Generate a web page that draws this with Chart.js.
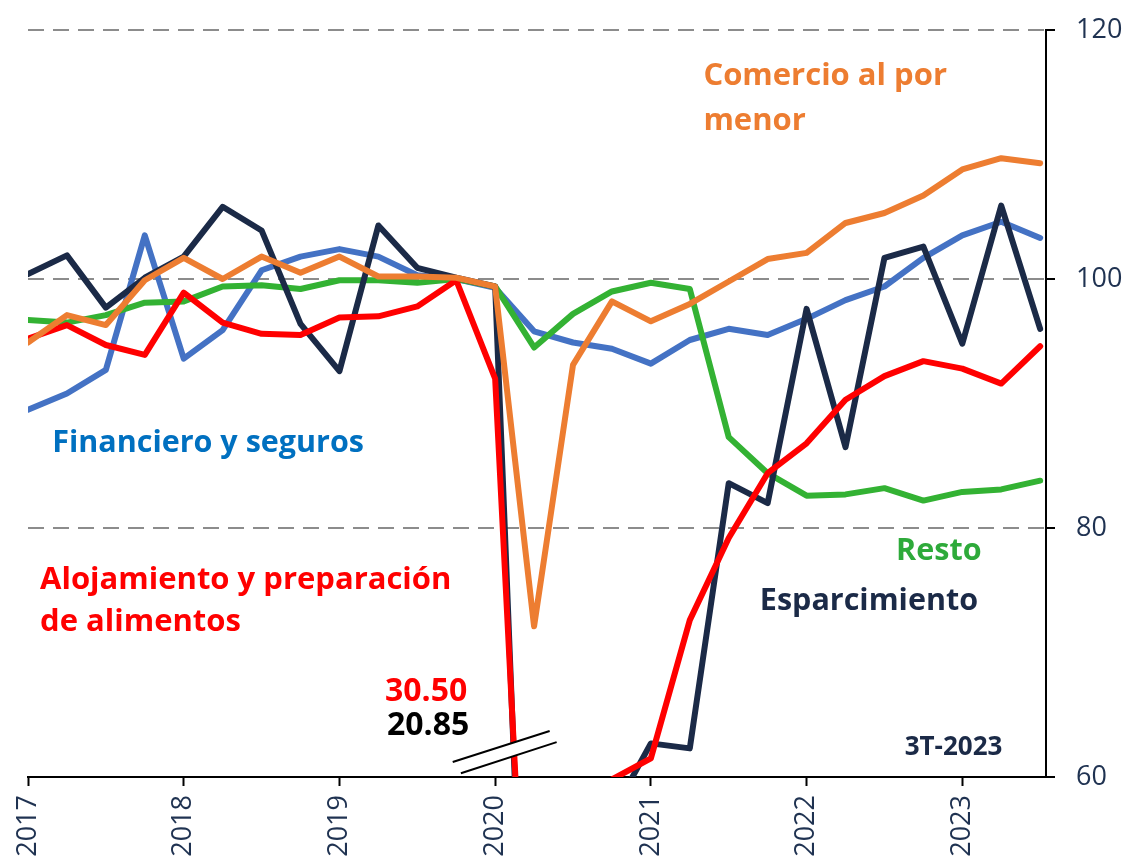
<!DOCTYPE html>
<html>
<head>
<meta charset="utf-8">
<script src="https://cdn.jsdelivr.net/npm/chart.js@4.4.0/dist/chart.umd.min.js"></script>
<style>
  html, body { margin: 0; padding: 0; background: #ffffff; }
  #wrap { width: 1127px; height: 865px; position: relative; }
</style>
</head>
<body>
<div id="wrap"><canvas id="c" width="1127" height="865"></canvas></div>
<script>
// Quarterly periods 2017-T1 ... 2023-T3 (27 quarters)
const quarters = [
  '1T-2017','2T-2017','3T-2017','4T-2017',
  '1T-2018','2T-2018','3T-2018','4T-2018',
  '1T-2019','2T-2019','3T-2019','4T-2019',
  '1T-2020','2T-2020','3T-2020','4T-2020',
  '1T-2021','2T-2021','3T-2021','4T-2021',
  '1T-2022','2T-2022','3T-2022','4T-2022',
  '1T-2023','2T-2023','3T-2023'
];
const yearLabels = ['2017','2018','2019','2020','2021','2022','2023'];
const yearTickIndex = [0, 4, 8, 12, 16, 20, 24];
const yTicks = [60, 80, 100, 120];

const comercio = [94.9, 97.1, 96.3, 99.9, 101.7, 100.0, 101.8, 100.5, 101.8, 100.2, 100.2, 100.1,
                  99.4, 72.1, 93.1, 98.2, 96.6, 98.0, 99.8, 101.6, 102.1, 104.5, 105.3, 106.7,
                  108.8, 109.7, 109.3];
const alojamiento = [95.2, 96.3, 94.7, 93.9, 98.9, 96.5, 95.6, 95.5, 96.9, 97.0, 97.8, 99.9,
                     92.0, 30.50, 45.0, 59.8, 61.5, 72.6, 79.2, 84.4, 86.8, 90.3, 92.2, 93.4,
                     92.8, 91.6, 94.6];
const esparcimiento = [100.4, 101.9, 97.7, 100.1, 101.8, 105.8, 103.9, 96.4, 92.6, 104.3, 100.9, 100.1,
                       99.4, 20.85, 38.0, 57.0, 62.7, 62.3, 83.6, 82.0, 97.6, 86.5, 101.7, 102.6,
                       94.8, 105.9, 96.0];
const resto = [96.7, 96.5, 97.1, 98.1, 98.2, 99.4, 99.5, 99.2, 99.9, 99.9, 99.7, 100.0,
               99.4, 94.5, 97.2, 99.0, 99.7, 99.2, 87.3, 84.4, 82.6, 82.7, 83.2, 82.2,
               82.9, 83.1, 83.8];
const financiero = [89.5, 90.8, 92.7, 103.5, 93.6, 95.9, 100.7, 101.8, 102.4, 101.8, 100.3, 100.0,
                    99.3, 95.8, 94.9, 94.4, 93.2, 95.1, 96.0, 95.5, 96.8, 98.3, 99.4, 101.7,
                    103.5, 104.6, 103.3];

const breakValues = { alojamiento: '30.50', esparcimiento: '20.85' };

const NAVY = '#1B2A47';
const TICK_TEXT = '#1F3251';

function toXY(arr) { return arr.map((v, i) => ({ x: i, y: v })); }

function ds(label, data, color) {
  return {
    label, data: toXY(data), borderColor: color, backgroundColor: color,
    borderWidth: 6, pointRadius: 0, tension: 0,
    borderJoinStyle: 'round', borderCapStyle: 'round', fill: false
  };
}

// Text annotations: [text, xIndex(scale units), yValue(scale units), color, fontPx]
const notes = [
  ['Comercio al por', 17.35, 115.55, '#ED7D31', 31],
  ['menor',           17.35, 111.95, '#ED7D31', 31],
  ['Financiero y seguros', 0.62, 86.1, '#0070C0', 30.5],
  ['Alojamiento y preparación', 0.31, 75.1, '#FF0000', 31],
  ['de alimentos',              0.31, 71.7, '#FF0000', 31],
  ['Resto', 22.3, 77.4, '#2EAA3A', 30.5],
  ['Esparcimiento', 18.8, 73.4, NAVY, 30.5],
  [breakValues.alojamiento, 9.17, 66.1, '#FF0000', 32],
  [breakValues.esparcimiento, 9.22, 63.4, '#000000', 32],
  ['3T-2023', 22.52, 61.75, NAVY, 26]
];

const decor = {
  id: 'decor',
  afterDatasetsDraw(chart) {
    const { ctx, scales: { x, y } } = chart;
    const X = v => x.getPixelForValue(v), Y = v => y.getPixelForValue(v);
    // axis break marks (two parallel slanted lines with white band)
    const a1 = [X(10.91), Y(61.2)], b1 = [X(13.4), Y(63.7)];
    const a2 = [X(11.12), Y(60.3)], b2 = [X(13.58), Y(62.8)];
    ctx.save();
    ctx.fillStyle = '#ffffff';
    ctx.beginPath();
    ctx.moveTo(a1[0], a1[1]); ctx.lineTo(b1[0], b1[1]);
    ctx.lineTo(b2[0], b2[1]); ctx.lineTo(a2[0], a2[1]);
    ctx.closePath(); ctx.fill();
    ctx.strokeStyle = '#000000'; ctx.lineWidth = 2;
    ctx.beginPath();
    ctx.moveTo(a1[0], a1[1]); ctx.lineTo(b1[0], b1[1]);
    ctx.moveTo(a2[0], a2[1]); ctx.lineTo(b2[0], b2[1]);
    ctx.stroke();
    ctx.restore();
  },
  afterDraw(chart) {
    const { ctx, chartArea, scales: { x, y } } = chart;
    ctx.save();
    // x axis line continues a little past the right axis
    ctx.strokeStyle = '#000'; ctx.lineWidth = 2;
    ctx.beginPath();
    ctx.moveTo(chartArea.right, chartArea.bottom);
    ctx.lineTo(chartArea.right + 9, chartArea.bottom);
    ctx.stroke();
    ctx.textBaseline = 'alphabetic';
    ctx.textAlign = 'left';
    for (const [t, xv, yv, col, fs] of notes) {
      ctx.font = 'bold ' + fs + 'px "Open Sans", sans-serif';
      ctx.fillStyle = col;
      ctx.fillText(t, x.getPixelForValue(xv), y.getPixelForValue(yv));
    }
    ctx.restore();
  }
};

new Chart(document.getElementById('c'), {
  type: 'line',
  data: {
    datasets: [
      ds('Comercio al por menor', comercio, '#ED7D31'),
      ds('Alojamiento y preparación de alimentos', alojamiento, '#FF0000'),
      ds('Esparcimiento', esparcimiento, NAVY),
      ds('Resto', resto, '#33B233'),
      ds('Financiero y seguros', financiero, '#4472C4')
    ]
  },
  options: {
    responsive: false,
    animation: false,
    events: [],
    layout: { padding: { left: 28, top: 30, right: 0, bottom: 0 } },
    plugins: { legend: { display: false }, tooltip: { enabled: false } },
    scales: {
      x: {
        type: 'linear',
        min: 0,
        max: quarters.length - 1 + 0.15,
        afterBuildTicks: s => { s.ticks = yearTickIndex.map(v => ({ value: v })); },
        afterFit: s => { s.height = 88; },
        grid: { drawOnChartArea: false, tickLength: 9, tickColor: '#000', tickWidth: 2 },
        border: { color: '#000', width: 2 },
        ticks: {
          autoSkip: false, minRotation: 90, maxRotation: 90, padding: 9,
          color: TICK_TEXT,
          font: { family: '"Open Sans", sans-serif', size: 27 },
          callback: v => yearLabels[yearTickIndex.indexOf(v)]
        }
      },
      y: {
        position: 'right',
        min: 60, max: 120,
        afterBuildTicks: s => { s.ticks = yTicks.map(v => ({ value: v })); },
        afterFit: s => { s.width = 81; s.paddingTop = 0; s.paddingBottom = 0; },
        grid: {
          color: ctx => (ctx.tick && ctx.tick.value === 60) ? 'rgba(0,0,0,0)' : '#8C8C8C',
          lineWidth: 2, tickLength: 9, tickColor: '#000', tickWidth: 2, tickBorderDash: []
        },
        border: { color: '#000', width: 2, dash: [16, 9] },
        ticks: {
          padding: 21, color: TICK_TEXT,
          font: { family: '"Open Sans", sans-serif', size: 27 }
        }
      }
    }
  },
  plugins: [decor]
});
</script>
</body>
</html>
